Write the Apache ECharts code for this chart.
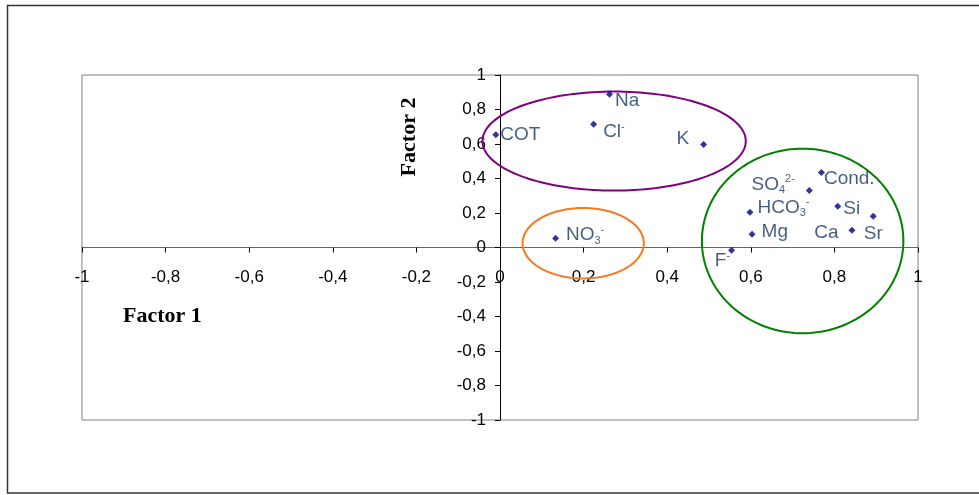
<!DOCTYPE html>
<html>
<head>
<meta charset="utf-8">
<script src="https://cdn.jsdelivr.net/npm/echarts@6/dist/echarts.min.js"></script>
<style>
  html, body { margin: 0; padding: 0; background: #ffffff; }
  #chart { width: 979px; height: 495px; }
</style>
</head>
<body>
<div id="chart"></div>
<script>
// Variable names (plain) and their loadings on the two factors
const variables = ['COT', 'Na', 'Cl', 'K', 'NO3', 'Cond.', 'SO4', 'HCO3', 'Si', 'Sr', 'Mg', 'Ca', 'F'];
const factor1   = [-0.01, 0.262, 0.224, 0.487, 0.133, 0.769, 0.740, 0.598, 0.808, 0.893, 0.603, 0.842, 0.554];
const factor2   = [0.653, 0.888, 0.715, 0.597, 0.054, 0.435, 0.331, 0.204, 0.239, 0.181, 0.077, 0.100, -0.016];

// Displayed label text, with ionic charges and subscripts as rich text
const labelText = {
  'COT': '{m|COT}',
  'Na': '{m|Na}',
  'Cl': '{m|Cl}{sup|-}',
  'K': '{m|K}',
  'NO3': '{m|NO}{sub|3}{sup|-}',
  'Cond.': '{m|Cond.}',
  'SO4': '{m|SO}{sub|4}{sup|2-}',
  'HCO3': '{m|HCO}{sub|3}{sup|-}',
  'Si': '{m|Si}',
  'Sr': '{m|Sr}',
  'Mg': '{m|Mg}',
  'Ca': '{m|Ca}',
  'F': '{m|F}{sup|-}'
};

// Variable groups (ellipses in factor space): centre and half-axes
const groupCx = [0.273, 0.199, 0.724];
const groupCy = [0.617, 0.025, 0.038];
const groupRx = [0.315, 0.145, 0.241];
const groupRy = [0.287, 0.204, 0.535];

// Axis ticks
const axisMin = -1, axisMax = 1, axisStep = 0.2;

// ---- styling ----
const gridBox = { left: 82, top: 75, width: 836, height: 345 };
const groupColors = ['#800080', '#F7791F', '#008000'];
const labelPlace = {
  'COT':   { pos: 'right', dist: 1,  dy: 0 },
  'Na':    { pos: 'right', dist: 2,  dy: 6 },
  'Cl':    { pos: 'right', dist: 6,  dy: 8 },
  'K':     { pos: 'left',  dist: 11, dy: -6 },
  'NO3':   { pos: 'right', dist: 7,  dy: -3 },
  'Cond.': { pos: 'right', dist: -1, dy: 6 },
  'SO4':   { pos: 'left',  dist: 11, dy: -6 },
  'HCO3':  { pos: 'right', dist: 4,  dy: -5 },
  'Si':    { pos: 'right', dist: 2,  dy: 2 },
  'Sr':    { pos: 'bottom', dist: 3, dy: 0 },
  'Mg':    { pos: 'right', dist: 6,  dy: -2 },
  'Ca':    { pos: 'left',  dist: 10, dy: 3 },
  'F':     { pos: 'left',  dist: -2, dy: 11 }
};
const labelColor = '#17365D';
const labelFont = '"Liberation Sans", Arial, sans-serif';
const richStyles = {
  m:   { fontFamily: labelFont, fontSize: 19, lineHeight: 22, color: labelColor },
  sub: { fontFamily: labelFont, fontSize: 11, lineHeight: 11, color: labelColor, verticalAlign: 'bottom' },
  sup: { fontFamily: labelFont, fontSize: 11, lineHeight: 11, color: labelColor, verticalAlign: 'top' }
};

const fmt = v => {
  const r = Math.round(v * 10) / 10;
  return String(r).replace('.', ',');
};

const pointData = variables.map((name, i) => {
  const p = labelPlace[name];
  return {
    name: name,
    value: [factor1[i], factor2[i]],
    label: {
      position: p.pos,
      distance: p.dist,
      offset: [0, p.dy]
    }
  };
});

const ellipseData = groupCx.map((cx, i) => [cx, groupCy[i], groupRx[i], groupRy[i], i]);

// Axes cross at the origin: shift each axis from its grid edge to the zero line
const zeroFrac = (0 - axisMin) / (axisMax - axisMin);
const xAxisShift = -gridBox.height * zeroFrac;
const yAxisShift = -gridBox.width * zeroFrac;

const chart = echarts.init(document.getElementById('chart'), null, { renderer: 'canvas' });

const axisLabelStyle = {
  fontFamily: labelFont,
  fontSize: 17,
  color: '#000000',
  formatter: fmt
};

chart.setOption({
  backgroundColor: '#ffffff',
  animation: false,
  grid: {
    left: gridBox.left, top: gridBox.top, width: gridBox.width, height: gridBox.height,
    show: true,
    borderColor: '#808080',
    borderWidth: 1,
    backgroundColor: 'transparent'
  },
  xAxis: {
    type: 'value',
    position: 'bottom',
    offset: xAxisShift,
    min: axisMin, max: axisMax, interval: axisStep,
    axisLine: { onZero: false, lineStyle: { color: '#666666', width: 1 } },
    axisTick: { show: true, inside: false, length: 5, lineStyle: { color: '#000000' } },
    axisLabel: Object.assign({ margin: 21 }, axisLabelStyle),
    splitLine: { show: false }
  },
  yAxis: {
    type: 'value',
    position: 'left',
    offset: yAxisShift,
    min: axisMin, max: axisMax, interval: axisStep,
    axisLine: { onZero: false, lineStyle: { color: '#000000', width: 1 } },
    axisTick: { show: true, inside: false, length: 5, lineStyle: { color: '#000000' } },
    axisLabel: Object.assign({ margin: 14 }, axisLabelStyle),
    splitLine: { show: false }
  },
  graphic: [
    {
      type: 'rect',
      shape: { x: 7.5, y: 5.5, width: 990, height: 487.5 },
      style: { fill: 'none', stroke: '#333333', lineWidth: 1.5 },
      silent: true,
      z: -10
    },
    {
      type: 'text',
      x: 123, y: 316,
      style: {
        text: 'Factor 1',
        font: 'bold 22px "Liberation Serif", "Times New Roman", serif',
        fill: '#000000',
        align: 'left',
        verticalAlign: 'middle'
      }
    },
    {
      type: 'text',
      x: 409, y: 137,
      rotation: Math.PI / 2,
      style: {
        text: 'Factor 2',
        font: 'bold 22px "Liberation Serif", "Times New Roman", serif',
        fill: '#000000',
        align: 'center',
        verticalAlign: 'middle'
      }
    }
  ],
  series: [
    {
      type: 'custom',
      coordinateSystem: 'cartesian2d',
      silent: true,
      clip: false,
      data: ellipseData,
      renderItem: function (params, api) {
        const cx = api.value(0), cy = api.value(1);
        const rx = api.value(2), ry = api.value(3);
        const idx = api.value(4);
        const pts = [];
        const n = 160;
        for (let k = 0; k < n; k++) {
          const t = (k / n) * Math.PI * 2;
          pts.push(api.coord([cx + rx * Math.cos(t), cy + ry * Math.sin(t)]));
        }
        return {
          type: 'polygon',
          shape: { points: pts },
          style: { fill: 'none', stroke: groupColors[idx], lineWidth: 2 }
        };
      },
      z: 2
    },
    {
      type: 'scatter',
      symbol: 'diamond',
      symbolSize: 7,
      itemStyle: { color: '#000080' },
      data: pointData,
      label: {
        show: true,
        formatter: p => labelText[p.name],
        rich: richStyles
      },
      z: 3
    }
  ]
});
</script>
</body>
</html>
